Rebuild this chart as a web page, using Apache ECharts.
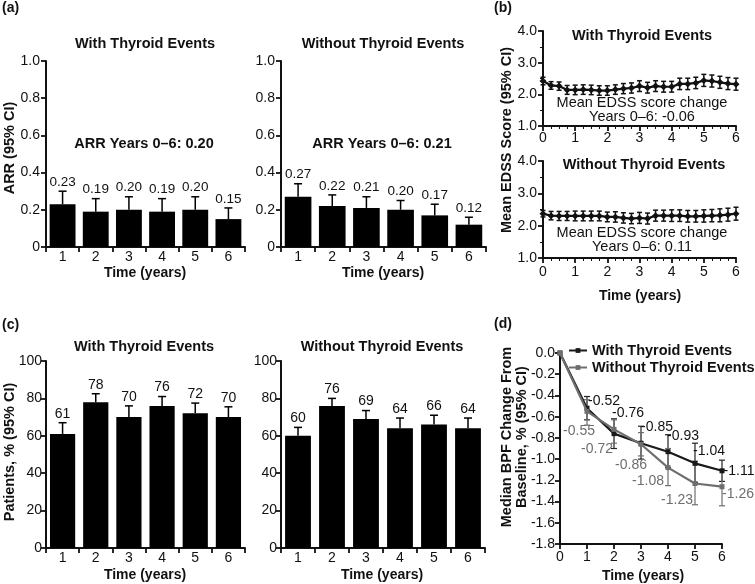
<!DOCTYPE html>
<html><head><meta charset="utf-8">
<script src="https://cdn.jsdelivr.net/npm/echarts@6/dist/echarts.min.js"></script>
<style>html,body{margin:0;padding:0;background:#fff}#c{width:755px;height:584px}</style>
</head><body><div id="c"></div>
<script>
// ---------- DATA ----------
const years = ['1','2','3','4','5','6'];
// (a) ARR
const arrWith = [0.23,0.19,0.20,0.19,0.20,0.15];
const arrWithUpper = [0.30,0.26,0.27,0.26,0.27,0.21];
const arrWithout = [0.27,0.22,0.21,0.20,0.17,0.12];
const arrWithoutUpper = [0.34,0.28,0.27,0.25,0.23,0.16];
// (b) EDSS
const edssTime = [0,0.25,0.5,0.75,1,1.25,1.5,1.75,2,2.25,2.5,2.75,3,3.25,3.5,3.75,4,4.25,4.5,4.75,5,5.25,5.5,5.75,6];
const edssWith = [2.42,2.28,2.26,2.14,2.14,2.15,2.14,2.12,2.12,2.15,2.18,2.20,2.26,2.21,2.26,2.24,2.24,2.33,2.33,2.36,2.44,2.42,2.38,2.34,2.32];
const edssWithHalfCI = [0.12,0.12,0.13,0.14,0.15,0.15,0.15,0.15,0.15,0.15,0.16,0.16,0.17,0.17,0.17,0.17,0.17,0.18,0.18,0.18,0.19,0.19,0.19,0.19,0.19];
const edssWithout = [2.37,2.31,2.30,2.30,2.30,2.30,2.30,2.30,2.27,2.27,2.24,2.22,2.24,2.22,2.31,2.31,2.31,2.31,2.29,2.29,2.30,2.31,2.32,2.34,2.37];
const edssWithoutHalfCI = [0.10,0.13,0.14,0.14,0.15,0.15,0.15,0.15,0.15,0.16,0.16,0.16,0.17,0.17,0.17,0.17,0.18,0.18,0.18,0.18,0.19,0.19,0.20,0.20,0.20];
// (c) Patients %
const patWith = [61,78,70,76,72,70];
const patWithUpper = [67,82.5,76,81,77.5,75.5];
const patWithout = [60,76,69,64,66,64];
const patWithoutUpper = [64.5,80,73.5,69.5,71,69.5];
// (d) BPF
const bpfTime = [0,1,2,3,4,5,6];
const bpfWith = [0,-0.52,-0.76,-0.85,-0.93,-1.04,-1.11];
const bpfWithLow = [null,-0.63,-0.90,-1.00,-1.08,-1.22,-1.21];
const bpfWithHigh = [null,-0.41,-0.62,-0.69,-0.77,-0.85,-1.01];
const bpfWithout = [0,-0.55,-0.72,-0.86,-1.08,-1.23,-1.26];
const bpfWithoutLow = [null,-0.68,-0.85,-0.97,-1.25,-1.43,-1.44];
const bpfWithoutHigh = [null,-0.44,-0.63,-0.75,-0.90,-1.02,-1.10];

// ---------- LAYOUT / STYLE ----------
const FF = '"Liberation Sans", Arial, sans-serif';
const BLACK = '#111';
const GRAY = '#6e6e6e';
const bpfWithLabelOffset = [null,[17,-7],[14,-21],[16,-16],[15,-16],[14,-12],[17,0]];
const bpfWithoutLabelOffset = [null,[-8,20],[-17,20],[-10,21],[-20,14],[-18,17],[16,7]];

const chart = echarts.init(document.getElementById('c'));

const axisLine = {show:true, onZero:false, lineStyle:{color:BLACK, width:2}};
const axisTick = {show:true, inside:false, length:5, lineStyle:{color:BLACK, width:1.8}};
function lab(margin, fmt){ return {color:BLACK, fontSize:14, fontFamily:FF, margin:margin, formatter:fmt}; }
const fmt1 = v => (v === 0 ? '0' : v.toFixed(1));
const fmtD = v => v.toFixed(1);

function catX(grid, margin){
  return {type:'category', gridIndex:grid, data:years, boundaryGap:true, axisLine, 
    axisTick:Object.assign({}, axisTick, {alignWithLabel:false, interval:0}), axisLabel:lab(margin), splitLine:{show:false}};
}
function valY(grid, min, max, interval, margin, fmt, minor){
  const o = {type:'value', gridIndex:grid, min, max, interval, axisLine, axisTick, axisLabel:lab(margin, fmt), splitLine:{show:false}};
  if (minor) { o.minorTick = {show:true, splitNumber:minor, length:3, lineStyle:{color:BLACK, width:1}}; o.minorSplitLine={show:false}; }
  return o;
}
function valX(grid, margin, minor){
  const o = {type:'value', gridIndex:grid, min:0, max:6, interval:1, axisLine, axisTick, axisLabel:lab(margin, v=>String(v)), splitLine:{show:false}};
  if (minor) { o.minorTick = {show:true, splitNumber:minor, length:3, lineStyle:{color:BLACK, width:1}}; o.minorSplitLine={show:false}; }
  return o;
}

function barSeries(name, xi, vals, width){
  return {type:'bar', name, xAxisIndex:xi, yAxisIndex:xi, data:vals, barWidth:width,
    itemStyle:{color:'#000'}, silent:true, z:2};
}
function barErr(name, xi, vals, upper, digits, fs){
  return {type:'custom', name, xAxisIndex:xi, yAxisIndex:xi, z:5, silent:true,
    data: vals.map((v,i)=>[i, v, upper[i]]),
    encode:{x:0, y:[1,2]},
    renderItem:function(params, api){
      const i = api.value(0), v = api.value(1), hi = api.value(2);
      const p1 = api.coord([i, v]), p2 = api.coord([i, hi]);
      return {type:'group', children:[
        {type:'line', shape:{x1:p1[0], y1:p1[1], x2:p2[0], y2:p2[1]}, style:{stroke:'#000', lineWidth:1.5}},
        {type:'line', shape:{x1:p2[0]-4, y1:p2[1], x2:p2[0]+4, y2:p2[1]}, style:{stroke:'#000', lineWidth:1.5}},
        {type:'text', x:p2[0], y:p2[1]-2, style:{text:v.toFixed(digits), align:'center', verticalAlign:'bottom', font:fs+'px '+FF, fill:BLACK}}
      ]};
    }};
}
function rangeErr(name, xi, xs, lows, highs, color, cap, lw, z){
  const data = [];
  xs.forEach((x,i)=>{ if (lows[i] !== null && lows[i] !== undefined) data.push([x, lows[i], highs[i]]); });
  return {type:'custom', name, xAxisIndex:xi, yAxisIndex:xi, z:z||4, silent:true, data,
    encode:{x:0, y:[1,2]},
    renderItem:function(params, api){
      const x = api.value(0);
      const p1 = api.coord([x, api.value(1)]), p2 = api.coord([x, api.value(2)]);
      const st = {stroke:color, lineWidth:lw};
      return {type:'group', children:[
        {type:'line', shape:{x1:p1[0], y1:p1[1], x2:p2[0], y2:p2[1]}, style:st},
        {type:'line', shape:{x1:p1[0]-cap, y1:p1[1], x2:p1[0]+cap, y2:p1[1]}, style:st},
        {type:'line', shape:{x1:p2[0]-cap, y1:p2[1], x2:p2[0]+cap, y2:p2[1]}, style:st}
      ]};
    }};
}

function txt(text, x, y, opts){
  opts = opts || {};
  return {type:'text', x, y, rotation: opts.rot || 0, silent:true,
    style:{text, align:'center', verticalAlign:'middle', lineHeight: opts.lh || undefined,
      font:(opts.bold===false?'':'bold ')+(opts.fs||14.5)+'px '+FF, fill:opts.color||BLACK}};
}
const R = Math.PI/2;

const option = {
  animation:false,
  backgroundColor:'#fff',
  grid:[
    {left:46, top:61, width:199, height:186},
    {left:281, top:61, width:205, height:186},
    {left:543, top:31, width:193, height:95},
    {left:543, top:161, width:193, height:97},
    {left:46, top:361, width:199, height:187},
    {left:281, top:361, width:204, height:187},
    {left:560, top:353, width:162, height:191}
  ],
  xAxis:[
    catX(0, 3), catX(1, 3),
    valX(2, 5, 4), valX(3, 7, 4),
    catX(4, 3), catX(5, 3),
    valX(6, 6, 0)
  ],
  yAxis:[
    valY(0, 0, 1, 0.2, 6, fmt1),
    valY(1, 0, 1, 0.2, 6, fmt1),
    valY(2, 1, 4, 1, 6, fmtD, 2),
    valY(3, 1, 4, 1, 6, fmtD, 2),
    valY(4, 0, 100, 20, 4, v=>String(v)),
    valY(5, 0, 100, 20, 4, v=>String(v)),
    valY(6, -1.8, 0, 0.2, 5, fmtD)
  ],
  legend:{
    data:['With Thyroid Events','Without Thyroid Events'],
    orient:'vertical', left:568, top:343, padding:0, itemGap:2,
    itemWidth:18, itemHeight:6,
    textStyle:{fontSize:14.5, fontWeight:'bold', fontFamily:FF, color:BLACK}
  },
  series:[
    barSeries('ARR With', 0, arrWith, '78%'),
    barErr('ARR With CI', 0, arrWith, arrWithUpper, 2, 13.5),
    barSeries('ARR Without', 1, arrWithout, '78%'),
    barErr('ARR Without CI', 1, arrWithout, arrWithoutUpper, 2, 13.5),

    rangeErr('EDSS With CI', 2, edssTime, edssWith.map((v,i)=>v-edssWithHalfCI[i]), edssWith.map((v,i)=>v+edssWithHalfCI[i]), BLACK, 2.5, 1.5),
    {type:'line', name:'EDSS With', xAxisIndex:2, yAxisIndex:2, data:edssTime.map((t,i)=>[t, edssWith[i]]),
      symbol:'diamond', symbolSize:7, itemStyle:{color:BLACK}, lineStyle:{color:BLACK, width:2.2}, z:5, silent:true},
    rangeErr('EDSS Without CI', 3, edssTime, edssWithout.map((v,i)=>v-edssWithoutHalfCI[i]), edssWithout.map((v,i)=>v+edssWithoutHalfCI[i]), BLACK, 2.5, 1.5),
    {type:'line', name:'EDSS Without', xAxisIndex:3, yAxisIndex:3, data:edssTime.map((t,i)=>[t, edssWithout[i]]),
      symbol:'diamond', symbolSize:7, itemStyle:{color:BLACK}, lineStyle:{color:BLACK, width:2.2}, z:5, silent:true},

    barSeries('Patients With', 4, patWith, '76%'),
    barErr('Patients With CI', 4, patWith, patWithUpper, 0, 14),
    barSeries('Patients Without', 5, patWithout, '76%'),
    barErr('Patients Without CI', 5, patWithout, patWithoutUpper, 0, 14),

    rangeErr('BPF With CI', 6, bpfTime, bpfWithLow, bpfWithHigh, '#222', 3, 1.2, 4),
    rangeErr('BPF Without CI', 6, bpfTime, bpfWithoutLow, bpfWithoutHigh, GRAY, 3, 1.2, 4),
    {type:'line', name:'With Thyroid Events', xAxisIndex:6, yAxisIndex:6, symbol:'rect', symbolSize:5,
      itemStyle:{color:'#1a1a1a'}, lineStyle:{color:'#1a1a1a', width:2.2}, z:6, silent:true,
      data:bpfTime.map((t,i)=>({value:[t,bpfWith[i]],
        label: bpfWithLabelOffset[i] ? {show:true, position:'inside', offset:bpfWithLabelOffset[i], formatter:bpfWith[i].toFixed(2), color:BLACK, fontSize:14, fontFamily:FF} : {show:false}}))},
    {type:'line', name:'Without Thyroid Events', xAxisIndex:6, yAxisIndex:6, symbol:'rect', symbolSize:5,
      itemStyle:{color:GRAY}, lineStyle:{color:GRAY, width:2.2}, z:7, silent:true,
      data:bpfTime.map((t,i)=>({value:[t,bpfWithout[i]],
        label: bpfWithoutLabelOffset[i] ? {show:true, position:'inside', offset:bpfWithoutLabelOffset[i], formatter:bpfWithout[i].toFixed(2), color:GRAY, fontSize:14, fontFamily:FF} : {show:false}}))}
  ],
  graphic:[
    // panel letters
    {type:'text', x:2, y:8, silent:true, style:{text:'(a)', font:'bold 14px '+FF, fill:BLACK, align:'left', verticalAlign:'middle'}},
    {type:'text', x:494, y:8, silent:true, style:{text:'(b)', font:'bold 14px '+FF, fill:BLACK, align:'left', verticalAlign:'middle'}},
    {type:'text', x:2, y:325, silent:true, style:{text:'(c)', font:'bold 14px '+FF, fill:BLACK, align:'left', verticalAlign:'middle'}},
    {type:'text', x:494, y:324, silent:true, style:{text:'(d)', font:'bold 14px '+FF, fill:BLACK, align:'left', verticalAlign:'middle'}},
    // titles
    txt('With Thyroid Events', 145, 44),
    txt('Without Thyroid Events', 383, 44),
    txt('ARR Years 0\u20136: 0.20', 144, 144),
    txt('ARR Years 0\u20136: 0.21', 382, 144),
    txt('With Thyroid Events', 642, 36),
    txt('Without Thyroid Events', 644, 165),
    txt('Mean EDSS score change', 642, 103, {bold:false}),
    txt('Years 0\u20136: -0.06', 642, 117, {bold:false}),
    txt('Mean EDSS score change', 642, 233, {bold:false}),
    txt('Years 0\u20136: 0.11', 642, 247, {bold:false}),
    txt('With Thyroid Events', 144, 347),
    txt('Without Thyroid Events', 382, 347),
    // axis names
    txt('ARR (95% CI)', 10, 148, {rot:R}),
    txt('Time (years)', 145, 273, {fs:14}),
    txt('Time (years)', 383, 273, {fs:14}),
    txt('Mean EDSS Score (95% CI)', 507, 140, {rot:R}),
    txt('Time (years)', 640, 296, {fs:14}),
    txt('Patients, % (95% CI)', 10, 452, {rot:R}),
    txt('Time (years)', 145, 575, {fs:14}),
    txt('Time (years)', 382, 575, {fs:14}),
    txt('Median BPF Change From\nBaseline, % (95% CI)', 514, 437, {rot:R, lh:15}),
    txt('Time (years)', 643, 576, {fs:14})
  ]
};
chart.setOption(option);
</script>
</body></html>
